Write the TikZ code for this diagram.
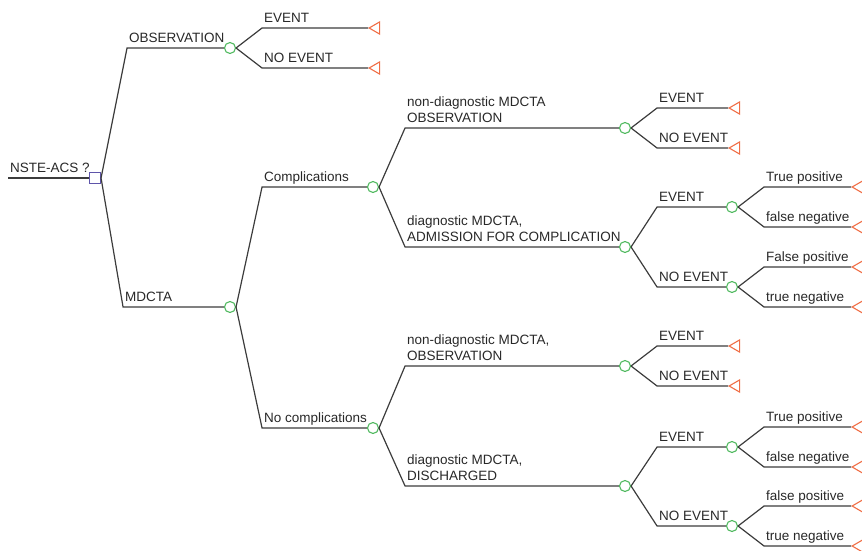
\documentclass[tikz,border=0pt]{standalone}
\usepackage{fontspec}
\setmainfont{Liberation Sans}
\usetikzlibrary{calc,shapes.geometric}
\definecolor{linegray}{RGB}{60,60,60}
\definecolor{textgray}{RGB}{40,40,40}
\definecolor{chancegreen}{RGB}{80,185,95}
\definecolor{decisionblue}{RGB}{95,85,170}
\definecolor{leaforange}{RGB}{240,110,70}
\tikzset{
  edge/.style={draw=linegray,line width=1.2pt},
  chance/.style={circle,draw=chancegreen,line width=1.1pt,minimum size=11pt,inner sep=0pt},
  decision/.style={rectangle,draw=decisionblue,line width=1.1pt,minimum size=11pt,inner sep=0pt},
  leaf/.style={regular polygon,regular polygon sides=3,shape border rotate=90,draw=leaforange,line width=1.1pt,minimum size=14pt,inner sep=0pt,anchor=west},
  lbl/.style={anchor=south west,inner sep=0pt,text depth=0pt,xshift=1.5pt,yshift=5pt,align=left,text=textgray,font=\fontsize{13.5}{16}\selectfont}
}
\newcommand{\branch}[4][26]{%
  \draw[edge] let \p1=(#2.east), \p2=(#3.west) in (\p1) -- (\x1+#1pt,\y2) node[lbl]{#4} -- (\p2);
}

\begin{document}
\begin{tikzpicture}[x=1pt,y=-1pt]
	\useasboundingbox (0,0) rectangle (862,551);

	% decision and chance nodes
	\coordinate (origin) at (8,178);
	\node[decision] (nste) at (95,178) {};
	\node[chance] (obs) at (230,48) {};
	\node[chance] (mdcta) at (230,307) {};
	\node[chance] (compl) at (373,187) {};
	\node[chance] (nocompl) at (373,428) {};
	\node[chance] (cnondiag) at (625,128) {};
	\node[chance] (cdiag) at (625,247) {};
	\node[chance] (nnondiag) at (625,366) {};
	\node[chance] (ndiag) at (625,486) {};
	\node[chance] (cdiagev) at (732,207) {};
	\node[chance] (cdiagnoev) at (732,287) {};
	\node[chance] (ndiagev) at (732,447) {};
	\node[chance] (ndiagnoev) at (732,526) {};

	% terminal nodes
	\foreach \Name/\X/\Y in {obsev/368/28,obsnoev/368/68,
	    cnondiagev/728/108,cnondiagnoev/728/148,nnondiagev/728/346,nnondiagnoev/728/386,
	    cdiagevtp/851/187,cdiagevfn/851/227,cdiagnoevfp/851/267,cdiagnoevtn/851/307,
	    ndiagevtp/851/427,ndiagevfn/851/467,ndiagnoevfp/851/506,ndiagnoevtn/851/546} {
		\node[leaf] (\Name) at (\X,\Y) {};
	}

	% branches
	\draw[edge] (origin) node[lbl,xshift=0pt]{NSTE-ACS ?} -- (nste.west);
	\branch{nste}{obs}{OBSERVATION}
	\branch[22]{nste}{mdcta}{MDCTA}
	\branch{mdcta}{compl}{Complications}
	\branch{mdcta}{nocompl}{No complications}
	\branch{compl}{cnondiag}{non-diagnostic MDCTA\\OBSERVATION}
	\branch{compl}{cdiag}{diagnostic MDCTA,\\ADMISSION FOR COMPLICATION}
	\branch{nocompl}{nnondiag}{non-diagnostic MDCTA,\\OBSERVATION}
	\branch{nocompl}{ndiag}{diagnostic MDCTA,\\DISCHARGED}
	\foreach \Parent in {obs,cnondiag,nnondiag} {
		\branch{\Parent}{\Parent ev}{EVENT}
		\branch{\Parent}{\Parent noev}{NO EVENT}
	}
	\foreach \Parent in {cdiag,ndiag} {
		\branch{\Parent}{\Parent ev}{EVENT}
		\branch{\Parent}{\Parent noev}{NO EVENT}
		\branch{\Parent ev}{\Parent evtp}{True positive}
		\branch{\Parent ev}{\Parent evfn}{false negative}
		\branch{\Parent noev}{\Parent noevtn}{true negative}
	}
	\branch{cdiagnoev}{cdiagnoevfp}{False positive}
	\branch{ndiagnoev}{ndiagnoevfp}{false positive}
\end{tikzpicture}
\end{document}
